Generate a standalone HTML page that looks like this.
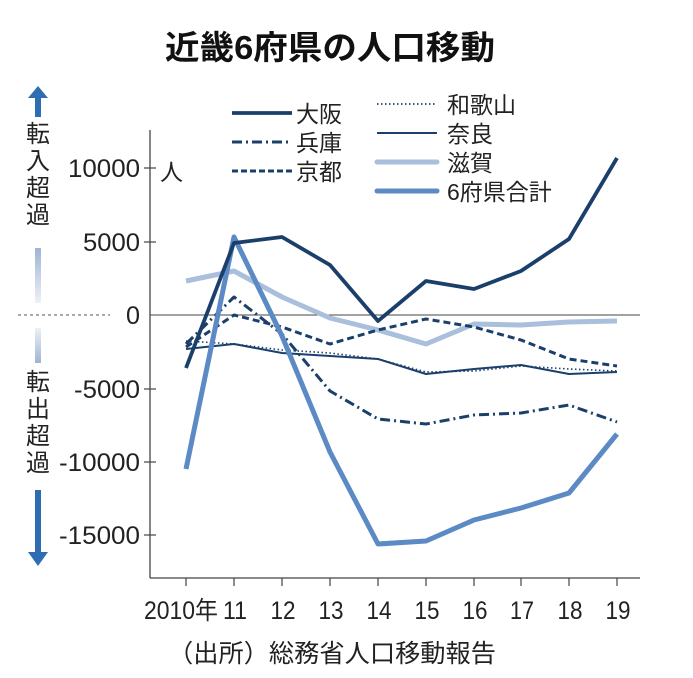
<!DOCTYPE html>
<html><head><meta charset="utf-8"><style>
html,body{margin:0;padding:0;background:#fff;width:693px;height:678px;overflow:hidden}
svg text{font-family:"Liberation Sans","Noto Sans CJK JP",sans-serif;fill:#222}
</style></head><body>
<svg width="693" height="678" viewBox="0 0 693 678" xmlns="http://www.w3.org/2000/svg">
<defs>
<linearGradient id="gu" x1="0" y1="0" x2="0" y2="1"><stop offset="0" stop-color="#9fb3d3"/><stop offset="1" stop-color="#eef1f6"/></linearGradient>
<linearGradient id="gd" x1="0" y1="0" x2="0" y2="1"><stop offset="0" stop-color="#eef1f6"/><stop offset="1" stop-color="#9fb3d3"/></linearGradient>
</defs>
<text x="330" y="59" font-size="33" font-weight="bold" text-anchor="middle" style="fill:#111" textLength="330" lengthAdjust="spacingAndGlyphs">近畿6府県の人口移動</text>
<polygon points="38,86 48,98 28,98" fill="#2f6db3"/>
<rect x="35" y="97" width="6" height="20" fill="#2f6db3"/>
<g font-size="24" text-anchor="middle">
<text x="38" y="142">転</text><text x="38" y="169">入</text><text x="38" y="196">超</text><text x="38" y="223">過</text>
<text x="38" y="390">転</text><text x="38" y="417">出</text><text x="38" y="444">超</text><text x="38" y="471">過</text>
</g>
<rect x="35" y="248" width="6" height="55" fill="url(#gu)"/>
<line x1="18" y1="315" x2="110" y2="315" stroke="#777" stroke-width="1.2" stroke-dasharray="3,3"/>
<rect x="35" y="328" width="6" height="35" fill="url(#gd)"/>
<rect x="35" y="490" width="6" height="62" fill="#2f6db3"/>
<polygon points="28,552 48,552 38,566" fill="#2f6db3"/>
<line x1="150" y1="130" x2="150" y2="578" stroke="#444" stroke-width="1.3"/>
<line x1="150" y1="578" x2="640" y2="578" stroke="#444" stroke-width="1.3"/>
<line x1="150" y1="315" x2="640" y2="315" stroke="#444" stroke-width="1"/>
<g stroke="#444" stroke-width="1.2">
<line x1="144" y1="168" x2="156" y2="168"/><line x1="144" y1="242" x2="156" y2="242"/><line x1="144" y1="389" x2="156" y2="389"/><line x1="144" y1="462" x2="156" y2="462"/><line x1="144" y1="535" x2="156" y2="535"/>
<line x1="186" y1="578" x2="186" y2="586"/><line x1="234" y1="578" x2="234" y2="586"/><line x1="282" y1="578" x2="282" y2="586"/><line x1="330" y1="578" x2="330" y2="586"/><line x1="378" y1="578" x2="378" y2="586"/><line x1="426" y1="578" x2="426" y2="586"/><line x1="474" y1="578" x2="474" y2="586"/><line x1="521" y1="578" x2="521" y2="586"/><line x1="569" y1="578" x2="569" y2="586"/><line x1="617" y1="578" x2="617" y2="586"/>
</g>
<g font-size="25" text-anchor="end" lengthAdjust="spacingAndGlyphs">
<text x="140" y="177" textLength="72" lengthAdjust="spacingAndGlyphs">10000</text>
<text x="140" y="251" textLength="57" lengthAdjust="spacingAndGlyphs">5000</text>
<text x="140" y="324" textLength="14" lengthAdjust="spacingAndGlyphs">0</text>
<text x="140" y="398" textLength="66" lengthAdjust="spacingAndGlyphs">-5000</text>
<text x="140" y="471" textLength="81" lengthAdjust="spacingAndGlyphs">-10000</text>
<text x="140" y="544" textLength="81" lengthAdjust="spacingAndGlyphs">-15000</text>
</g>
<text x="160" y="180" font-size="23">人</text>
<g font-size="25" text-anchor="middle">
<text x="181" y="619" textLength="74" lengthAdjust="spacingAndGlyphs">2010年</text>
<text x="235" y="619" textLength="24" lengthAdjust="spacingAndGlyphs">11</text>
<text x="283" y="619" textLength="25" lengthAdjust="spacingAndGlyphs">12</text>
<text x="331" y="619" textLength="25" lengthAdjust="spacingAndGlyphs">13</text>
<text x="379" y="619" textLength="25" lengthAdjust="spacingAndGlyphs">14</text>
<text x="427" y="619" textLength="25" lengthAdjust="spacingAndGlyphs">15</text>
<text x="475" y="619" textLength="25" lengthAdjust="spacingAndGlyphs">16</text>
<text x="522" y="619" textLength="24" lengthAdjust="spacingAndGlyphs">17</text>
<text x="570" y="619" textLength="25" lengthAdjust="spacingAndGlyphs">18</text>
<text x="618" y="619" textLength="25" lengthAdjust="spacingAndGlyphs">19</text>
</g>
<text x="168" y="662" font-size="25" textLength="328" lengthAdjust="spacingAndGlyphs">（出所）総務省人口移動報告</text>
<g fill="none" stroke-linejoin="round">
<polyline stroke="#a9bfdc" stroke-width="5" points="186,281 234,271 282,297 330,318 378,330 426,344 474,324 521,325 569,322 617,321"/>
<polyline stroke="#1b3f6b" stroke-width="1.6" stroke-dasharray="1.5,2.5" points="186,341 234,344 282,350 330,353 378,359 426,372 474,371 521,366 569,369 617,371"/>
<polyline stroke="#1b3f6b" stroke-width="2" points="186,349 234,344 282,353 330,356 378,359 426,374 474,369 521,365 569,374 617,372"/>
<polyline stroke="#1b3f6b" stroke-width="3" stroke-dasharray="7,4" points="186,347 234,315 282,327 330,344 378,330 426,319 474,327 521,340 569,359 617,366"/>
<polyline stroke="#1b3f6b" stroke-width="3" stroke-dasharray="10,4,2,4" points="186,344 234,297 282,334 330,391 378,419 426,424 474,415 521,413 569,405 617,422"/>
<polyline stroke="#5b8ac4" stroke-width="5" points="186,469 234,237 282,336 330,452 378,544 426,541 474,520 521,508 569,493 617,434"/>
<polyline stroke="#1b3f6b" stroke-width="3.8" points="186,368 234,243 282,237 330,265 378,321 426,281 474,289 521,271 569,239 617,158"/>
</g>
<g fill="none">
<line x1="232" y1="113" x2="292" y2="113" stroke="#1b3f6b" stroke-width="3.8"/>
<line x1="232" y1="142" x2="292" y2="142" stroke="#1b3f6b" stroke-width="3" stroke-dasharray="10,4,2,4"/>
<line x1="232" y1="171" x2="292" y2="171" stroke="#1b3f6b" stroke-width="3" stroke-dasharray="6,3"/>
<line x1="377" y1="104" x2="437" y2="104" stroke="#1b3f6b" stroke-width="1.8" stroke-dasharray="1.5,2.5"/>
<line x1="377" y1="133" x2="437" y2="133" stroke="#1b3f6b" stroke-width="2"/>
<line x1="377" y1="162" x2="437" y2="162" stroke="#a9bfdc" stroke-width="5" stroke-linecap="round"/>
<line x1="377" y1="191" x2="437" y2="191" stroke="#5b8ac4" stroke-width="5" stroke-linecap="round"/>
</g>
<g font-size="23">
<text x="296" y="122">大阪</text><text x="296" y="151">兵庫</text><text x="296" y="180">京都</text>
<text x="447" y="113">和歌山</text><text x="447" y="142">奈良</text><text x="447" y="171">滋賀</text><text x="447" y="200">6府県合計</text>
</g>
</svg>
</body></html>
